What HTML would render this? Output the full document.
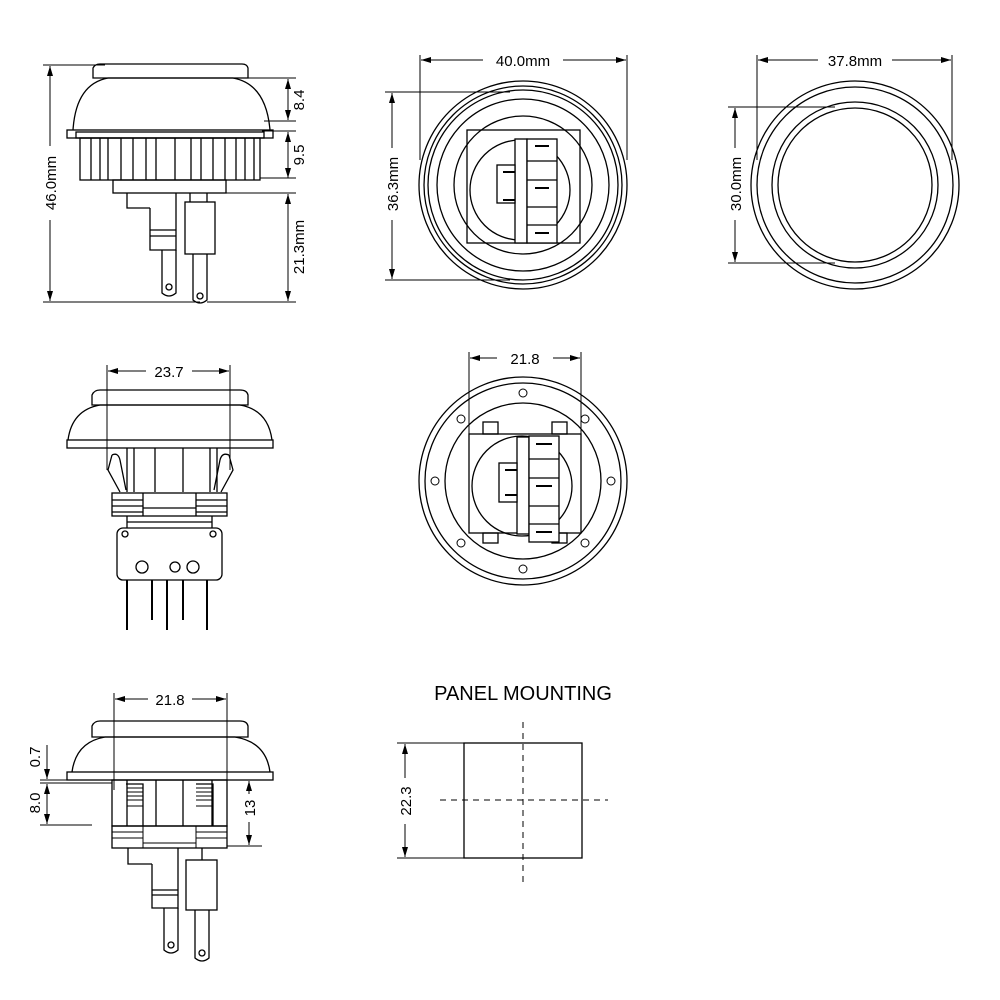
<!DOCTYPE html>
<html><head><meta charset="utf-8"><style>
html,body{margin:0;padding:0;background:#fff}
svg{display:block}
text{font-family:"Liberation Sans",sans-serif;fill:#000}
</style></head><body>
<svg width="1000" height="1000" viewBox="0 0 1000 1000" xmlns="http://www.w3.org/2000/svg">
<defs>
<marker id="a" viewBox="0 0 10 6" refX="10" refY="3" markerWidth="11" markerHeight="6" orient="auto-start-reverse" markerUnits="userSpaceOnUse"><path d="M0,0 L10,3 L0,6 z" fill="#000"/></marker>
</defs>
<g fill="none" stroke="#000" stroke-width="1.3">

<!-- ===== View 1 ===== -->
<path d="M93,78 L93,68 Q95,64 100,64 L242,64 Q247,64 248,68 L248,78 Z"/>
<path d="M73,130 Q76,84 108,78 L233,78 Q266,84 270,130"/>
<rect x="67" y="130" width="206" height="8"/>
<rect x="76" y="132" width="188" height="6"/>
<rect x="80" y="138" width="180" height="42"/>
<path d="M91,138V180 M100,138V180 M108,138V180 M121,138V180 M133,138V180 M146,138V180 M156,138V180 M175,138V180 M191,138V180 M201,138V180 M213,138V180 M225,138V180 M236,138V180 M245,138V180 M254,138V180"/>
<rect x="113" y="180" width="113" height="13"/>
<path d="M127,193 V208 H150 M150,208 V250 H176 V193 M150,230 H176 M150,236 H176"/>
<path d="M162,250 V293 Q169,299 176,293 V250"/>
<circle cx="169" cy="287" r="3"/>
<rect x="185" y="202" width="30" height="52"/>
<path d="M190,193 V202 M207,193 V202"/>
<path d="M193,254 V300 Q200,306 207,300 V254"/>
<circle cx="200" cy="296" r="3"/>
<!-- dims -->
<path d="M43,65 H105 M43,302 H200 M248,78 H296 M264,121 H296 M262,131 H296 M260,178 H296 M226,193 H296 M207,302 H296" stroke-width="1"/>
<path d="M50,66 V146" marker-start="url(#a)" stroke-width="1"/>
<path d="M50,220 V301" marker-end="url(#a)" stroke-width="1"/>
<path d="M288,79 V120" marker-start="url(#a)" marker-end="url(#a)" stroke-width="1"/>
<path d="M288,132 V178" marker-start="url(#a)" marker-end="url(#a)" stroke-width="1"/>
<path d="M288,194 V301" marker-start="url(#a)" marker-end="url(#a)" stroke-width="1"/>

<!-- ===== View 2 ===== -->
<circle cx="523" cy="185" r="104"/>
<circle cx="523" cy="185" r="99"/>
<circle cx="523" cy="185" r="95"/>
<circle cx="523" cy="185" r="86"/>
<circle cx="523" cy="185" r="69"/>
<rect x="467" y="130" width="113" height="113"/>
<circle cx="520" cy="190" r="50"/>
<rect x="515" y="139" width="12" height="104" fill="#fff"/>
<rect x="527" y="139" width="30" height="104" fill="#fff"/>
<path d="M527,161 H557 M527,180 H557 M527,207 H557 M527,225 H557"/>
<rect x="497" y="165" width="18" height="38" fill="#fff"/>
<path d="M535,146 H549 M535,188 H549 M535,233 H549 M503,172 H515 M503,200 H515" stroke-width="2"/>
<path d="M420,55 V160 M627,55 V160 M385,92 H510 M385,280 H510" stroke-width="1"/>
<path d="M421,60 H483" marker-start="url(#a)" stroke-width="1"/>
<path d="M563,60 H626" marker-end="url(#a)" stroke-width="1"/>
<path d="M392,93 V148" marker-start="url(#a)" stroke-width="1"/>
<path d="M392,220 V279" marker-end="url(#a)" stroke-width="1"/>

<!-- ===== View 3 ===== -->
<circle cx="855" cy="185" r="104"/>
<circle cx="855" cy="185" r="98"/>
<circle cx="855" cy="185" r="83"/>
<circle cx="855" cy="185" r="77"/>
<path d="M757,55 V160 M952,55 V160 M728,107 H835 M728,263 H835" stroke-width="1"/>
<path d="M758,60 H818" marker-start="url(#a)" stroke-width="1"/>
<path d="M892,60 H951" marker-end="url(#a)" stroke-width="1"/>
<path d="M735,108 V148" marker-start="url(#a)" stroke-width="1"/>
<path d="M735,220 V262" marker-end="url(#a)" stroke-width="1"/>

<!-- ===== View 4 ===== -->
<path d="M92,405 L92,395 Q94,390 100,390 L240,390 Q247,390 248,395 L248,405 Z"/>
<path d="M68,440 Q72,410 100,405 L240,405 Q268,410 272,440"/>
<rect x="67" y="440" width="206" height="8"/>
<path d="M127,448 V492 M134,448 V492 M155,448 V492 M183,448 V492 M210,448 V492 M217,448 V492"/>
<path d="M112,455 L108,470 L120,492 M112,455 Q118,452 120,460 L126,490"/>
<path d="M229,455 L233,470 L221,492 M229,455 Q222,452 220,460 L214,490"/>
<rect x="112" y="493" width="115" height="23"/>
<path d="M112,500 H143 M112,506 H143 M112,512 H143 M196,500 H227 M196,506 H227 M196,512 H227 M143,493 V516 M196,493 V516 M143,508 H196"/>
<path d="M127,516 V528 M212,516 V528 M127,522 H212"/>
<rect x="117" y="528" width="105" height="52" rx="6"/>
<circle cx="125" cy="534" r="3"/><circle cx="213" cy="534" r="3"/>
<circle cx="142" cy="567" r="6"/><circle cx="175" cy="567" r="5"/><circle cx="193" cy="567" r="6"/>
<path d="M127,580 V630 M152,580 V620 M167,580 V630 M183,580 V620 M207,580 V630" stroke-width="2"/>
<path d="M107,365 V470 M230,365 V470" stroke-width="1"/>
<path d="M108,371 H146" marker-start="url(#a)" stroke-width="1"/>
<path d="M192,371 H229" marker-end="url(#a)" stroke-width="1"/>

<!-- ===== View 5 ===== -->
<circle cx="523" cy="481" r="104"/>
<circle cx="523" cy="481" r="98"/>
<circle cx="523" cy="481" r="78"/>
<g stroke-width="1">
<circle cx="523" cy="393" r="4"/><circle cx="523" cy="569" r="4"/>
<circle cx="435" cy="481" r="4"/><circle cx="611" cy="481" r="4"/>
<circle cx="461" cy="419" r="4"/><circle cx="585" cy="419" r="4"/>
<circle cx="461" cy="543" r="4"/><circle cx="585" cy="543" r="4"/>
</g>
<rect x="469" y="434" width="112" height="99"/>
<rect x="483" y="422" width="15" height="12"/><rect x="552" y="422" width="15" height="12"/>
<rect x="483" y="533" width="15" height="10"/><rect x="552" y="533" width="15" height="10"/>
<circle cx="522" cy="486" r="50"/>
<rect x="517" y="437" width="12" height="97" fill="#fff"/>
<rect x="529" y="436" width="30" height="106" fill="#fff"/>
<path d="M529,459 H559 M529,478 H559 M529,506 H559 M529,524 H559"/>
<rect x="499" y="463" width="18" height="39" fill="#fff"/>
<path d="M536,444 H552 M536,486 H552 M536,532 H552 M505,470 H517 M505,495 H517" stroke-width="2"/>
<path d="M469,352 V434 M581,352 V434" stroke-width="1"/>
<path d="M470,358 H497" marker-start="url(#a)" stroke-width="1"/>
<path d="M553,358 H580" marker-end="url(#a)" stroke-width="1"/>

<!-- ===== View 6 ===== -->
<path d="M92,737 L92,726 Q94,721 100,721 L240,721 Q247,721 248,726 L248,737 Z"/>
<path d="M72,772 Q76,742 105,737 L235,737 Q266,742 270,772"/>
<rect x="67" y="772" width="206" height="8"/>
<rect x="112" y="780" width="115" height="46"/>
<path d="M127,780 V826 M156,780 V826 M183,780 V826 M212,780 V826 M126,784 H143 V826 M196,784 H213 V826"/>
<path d="M127,788 H143 M127,792 H143 M127,796 H143 M127,800 H143 M196,788 H213 M196,792 H213 M196,796 H213 M196,800 H213 M127,806 H143 M196,806 H213" stroke-width="1"/>
<rect x="112" y="826" width="115" height="22"/>
<path d="M112,832 H143 M112,838 H143 M196,832 H227 M196,838 H227 M143,843 H196 M143,826 V848 M196,826 V848" stroke-width="1"/>
<path d="M128,848 V864 H152 M152,864 V908 H178 V848 M152,890 H178 M152,895 H178"/>
<path d="M164,908 V950 Q171,956 178,950 V908"/>
<circle cx="171" cy="945" r="3"/>
<rect x="186" y="860" width="31" height="50"/>
<path d="M202,848 V860"/>
<path d="M195,910 V958 Q202,964 209,958 V910"/>
<circle cx="202" cy="953" r="3"/>
<path d="M114,693 V790 M227,693 V790" stroke-width="1"/>
<path d="M115,699 H148" marker-start="url(#a)" stroke-width="1"/>
<path d="M192,699 H226" marker-end="url(#a)" stroke-width="1"/>
<path d="M40,780 H112 M40,783 H112 M40,825 H92 M227,846 H262" stroke-width="1"/>
<path d="M47,745 V779" marker-end="url(#a)" stroke-width="1"/>
<path d="M47,784 V824" marker-start="url(#a)" marker-end="url(#a)" stroke-width="1"/>
<path d="M249,781 V794" marker-start="url(#a)" stroke-width="1"/>
<path d="M249,822 V845" marker-end="url(#a)" stroke-width="1"/>

<!-- ===== Panel mounting ===== -->
<rect x="464" y="743" width="118" height="115"/>
<path d="M523,722 V886 M440,800 H608" stroke-dasharray="6,5" stroke-width="1"/>
<path d="M397,743 H464 M397,858 H464" stroke-width="1"/>
<path d="M405,744 V778" marker-start="url(#a)" stroke-width="1"/>
<path d="M405,824 V857" marker-end="url(#a)" stroke-width="1"/>
</g>

<g font-size="15">
<text x="523" y="66" text-anchor="middle">40.0mm</text>
<text x="855" y="66" text-anchor="middle">37.8mm</text>
<text x="169" y="377" text-anchor="middle">23.7</text>
<text x="525" y="364" text-anchor="middle">21.8</text>
<text x="170" y="705" text-anchor="middle">21.8</text>
<text transform="translate(56,183) rotate(-90)" text-anchor="middle">46.0mm</text>
<text transform="translate(304,100) rotate(-90)" text-anchor="middle">8.4</text>
<text transform="translate(304,155) rotate(-90)" text-anchor="middle">9.5</text>
<text transform="translate(304,247) rotate(-90)" text-anchor="middle">21.3mm</text>
<text transform="translate(398,184) rotate(-90)" text-anchor="middle">36.3mm</text>
<text transform="translate(741,184) rotate(-90)" text-anchor="middle">30.0mm</text>
<text transform="translate(40,757) rotate(-90)" text-anchor="middle">0.7</text>
<text transform="translate(40,803) rotate(-90)" text-anchor="middle">8.0</text>
<text transform="translate(255,808) rotate(-90)" text-anchor="middle">13</text>
<text transform="translate(411,801) rotate(-90)" text-anchor="middle">22.3</text>
</g>
<text x="523" y="700" text-anchor="middle" font-size="20">PANEL MOUNTING</text>
</svg>
</body></html>
